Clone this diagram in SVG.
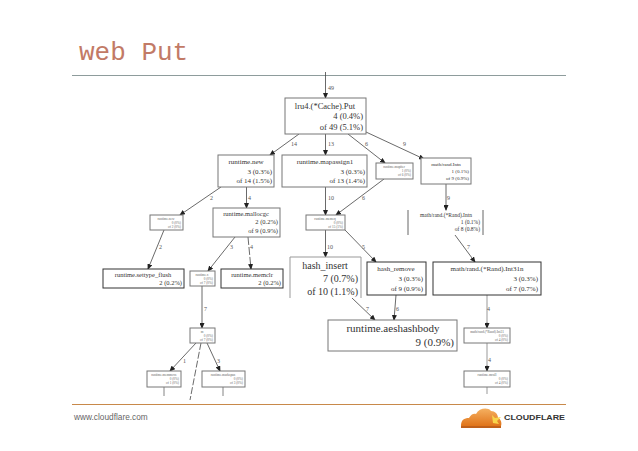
<svg xmlns="http://www.w3.org/2000/svg" width="638" height="451" viewBox="0 0 638 451">
<style>
.n{fill:#fff;stroke:#777;stroke-width:1}
.d{fill:#fff;stroke:#333;stroke-width:1}
.t{font-family:"Liberation Serif",serif;fill:#333}
.m{text-anchor:middle}.r{text-anchor:end}
.s{font-size:3.4px;fill:#666}
.e{fill:none;stroke:#444;stroke-width:.8;marker-end:url(#a)}
.el{font-family:"Liberation Serif",serif;font-size:6px;fill:#555}
</style>
<defs><marker id="a" markerWidth="6" markerHeight="5" refX="5" refY="2.5" orient="auto" markerUnits="userSpaceOnUse"><path d="M0 0L6 2.5L0 5z" fill="#222"/></marker>
<linearGradient id="c" x1="0" y1="0" x2="0" y2="1"><stop offset="0" stop-color="#f5b060"/><stop offset="1" stop-color="#e0741a"/></linearGradient></defs>
<rect width="638" height="451" fill="#fff"/>
<text x="79" y="60" font-family="'Liberation Mono',monospace" font-size="26" fill="#c27a66">web Put</text>
<path d="M72 75.500H566" stroke="#8e9c9c" stroke-width="1"/>
<g id="connectors">
<path class="e" d="M325.500 72V98"/><text class="el" x="328" y="90">49</text>
<path class="e" d="M299 134L270 155"/><text class="el" x="291" y="146">14</text>
<path class="e" d="M325.500 134V155"/><text class="el" x="328" y="146">13</text>
<path class="e" d="M348 134L385 163"/><text class="el" x="365" y="146">6</text>
<path class="e" d="M366 132L424 159"/><text class="el" x="403" y="146">9</text>
<path class="e" d="M221 187L180 215"/><text class="el" x="210" y="200">2</text>
<path class="e" d="M246.500 187V208"/><text class="el" x="248" y="200">4</text>
<path class="e" d="M325.500 187V215"/><text class="el" x="328" y="200">10</text>
<path class="e" d="M384 179L336 215"/><text class="el" x="362" y="200">6</text>
<path class="e" d="M446 184V210"/><text class="el" x="447" y="200">9</text>
<path class="e" d="M164 230L148 269"/><text class="el" x="159" y="249">2</text>
<path class="e" d="M235 237L208 271"/><text class="el" x="230" y="249">3</text>
<path class="e" d="M248 237L251 269" stroke-dasharray="8 2"/><text class="el" x="250" y="249">4</text>
<path class="e" d="M202 286V328"/><text class="el" x="204" y="311">7</text>
<path class="e" d="M325.500 230V257"/><text class="el" x="327" y="249">10</text>
<path class="e" d="M345 230L376 262"/><text class="el" x="362" y="249">5</text>
<path class="e" d="M455 235L475 262"/><text class="el" x="467" y="249">7</text>
<path class="e" d="M352 298L375 320"/><text class="el" x="366" y="311">7</text>
<path class="e" d="M396 295L394 320"/><text class="el" x="396" y="311">6</text>
<path d="M487 295V322" stroke="#ccc" stroke-width="2" fill="none"/><path class="e" d="M487 322V328"/><text class="el" x="487" y="311">4</text>
<path d="M487 343V365" stroke="#ccc" stroke-width="2" fill="none"/><path class="e" d="M487 365V371"/><text class="el" x="488" y="362">4</text>
<path class="e" d="M196 343L170 371"/><text class="el" x="183" y="363">1</text>
<path d="M201 343L190 400" fill="none" stroke="#444" stroke-width=".8" stroke-dasharray="7 2"/>
<path class="e" d="M207 343L220 371"/><text class="el" x="217" y="363">3</text>
<path d="M164 387V396M223 387V396" fill="none" stroke="#666" stroke-width=".8"/>
<path d="M487 387V394" fill="none" stroke="#ccc" stroke-width="2"/>
</g>
<g id="lru"><rect class="n" x="285" y="98" width="81" height="36"/><text class="t m" font-size="8.500" x="325" y="109">lru4.(*Cache).Put</text><text class="t r" font-size="8.500" x="363" y="119">4 (0.4%)</text><text class="t r" font-size="8.500" x="363" y="130">of 49 (5.1%)</text></g>
<g id="new"><rect class="n" x="218" y="155" width="56" height="32"/><text class="t m" font-size="7" x="246" y="164">runtime.new</text><text class="t r" font-size="7" x="272" y="174">3 (0.3%)</text><text class="t r" font-size="7" x="272" y="183">of 14 (1.5%)</text></g>
<g id="mapassign"><rect class="n" x="282" y="155" width="85" height="32"/><text class="t m" font-size="7" x="325" y="164">runtime.mapassign1</text><text class="t r" font-size="7" x="365" y="174">3 (0.3%)</text><text class="t r" font-size="7" x="365" y="183">of 13 (1.4%)</text></g>
<g id="s1"><rect class="n" x="376" y="163" width="37" height="16"/><text class="t m s" x="394" y="168">runtime.mapiter</text><text class="t r s" x="411" y="172">1 (0%)</text><text class="t r s" x="411" y="176">of 6 (0%)</text></g>
<g id="intn"><rect class="n" x="421" y="158" width="50" height="26"/><text class="t m" font-size="5" x="446" y="166">math/rand.Intn</text><text class="t r" font-size="5" x="469" y="173">1 (0.1%)</text><text class="t r" font-size="5" x="469" y="180">of 9 (0.9%)</text></g>
<g id="s2"><rect class="n" x="150" y="215" width="33" height="15"/><text class="t m s" x="166" y="220">runtime.new</text><text class="t r s" x="181" y="224">0 (0%)</text><text class="t r s" x="181" y="228">of 2 (0%)</text></g>
<g id="malloc"><rect class="n" x="213" y="208" width="67" height="29"/><text class="t m" font-size="6.500" x="246" y="216">runtime.mallocgc</text><text class="t r" font-size="6.500" x="278" y="224">2 (0.2%)</text><text class="t r" font-size="6.500" x="278" y="233">of 9 (0.9%)</text></g>
<g id="s3"><rect class="n" x="306" y="215" width="39" height="15"/><text class="t m s" x="325" y="220">runtime.memeq</text><text class="t r s" x="343" y="224">0 (0%)</text><text class="t r s" x="343" y="228">of 15 (1%)</text></g>
<g id="randint"><path d="M408 210V235M483 210V235" stroke="#666" fill="none"/><text class="t m" font-size="5.500" x="446" y="217">math/rand.(*Rand).Intn</text><text class="t r" font-size="5.500" x="480" y="224">1 (0.1%)</text><text class="t r" font-size="5.500" x="480" y="231">of 8 (0.8%)</text></g>
<g id="settype"><rect class="d" x="103" y="269" width="81" height="19"/><text class="t m" font-size="6.500" x="143" y="277">runtime.settype_flush</text><text class="t r" font-size="6.500" x="182" y="285">2 (0.2%)</text></g>
<g id="s4"><rect class="n" x="190" y="271" width="25" height="15"/><text class="t m s" x="202" y="276">runtime.x</text><text class="t r s" x="213" y="280">0 (0%)</text><text class="t r s" x="213" y="284">of 7 (0%)</text></g>
<g id="memclr"><rect class="d" x="221" y="269" width="62" height="19"/><text class="t m" font-size="6.500" x="252" y="277">runtime.memclr</text><text class="t r" font-size="6.500" x="281" y="285">2 (0.2%)</text></g>
<g id="hash_insert"><path d="M290 298V257H361V298" fill="#fff" stroke="#999"/><text class="t m" font-size="10" x="325" y="269">hash_insert</text><text class="t r" font-size="10" x="358" y="282">7 (0.7%)</text><text class="t r" font-size="10" x="358" y="295">of 10 (1.1%)</text></g>
<g id="hash_remove"><rect class="d" x="367" y="262" width="59" height="33"/><text class="t m" font-size="7" x="396" y="271">hash_remove</text><text class="t r" font-size="7" x="423" y="281">3 (0.3%)</text><text class="t r" font-size="7" x="423" y="291">of 9 (0.9%)</text></g>
<g id="int31n"><rect class="d" x="433" y="262" width="108" height="33"/><text class="t m" font-size="7" x="487" y="271">math/rand.(*Rand).Int31n</text><text class="t r" font-size="7" x="538" y="281">3 (0.3%)</text><text class="t r" font-size="7" x="538" y="291">of 7 (0.7%)</text></g>
<g id="aes"><rect class="n" x="328" y="320" width="129" height="31"/><text class="t m" font-size="11" x="393" y="332">runtime.aeshashbody</text><text class="t r" font-size="11" x="454" y="346">9 (0.9%)</text></g>
<g id="s5"><rect class="n" x="464" y="328" width="46" height="15"/><text class="t m s" x="487" y="333">math/rand.(*Rand).Int31</text><text class="t r s" x="508" y="337">0 (0%)</text><text class="t r s" x="508" y="341">of 4 (0%)</text></g>
<g id="s6"><rect class="n" x="190" y="328" width="25" height="15"/><text class="t m s" x="202" y="333">m</text><text class="t r s" x="213" y="337">0 (0%)</text><text class="t r s" x="213" y="341">of 7 (0%)</text></g>
<g id="s7"><rect class="n" x="147" y="371" width="34" height="16"/><text class="t m s" x="164" y="376">runtime.memmove</text><text class="t r s" x="179" y="380">0 (0%)</text><text class="t r s" x="179" y="384">of 1 (0%)</text></g>
<g id="s8"><rect class="n" x="202" y="371" width="43" height="16"/><text class="t m s" x="223" y="376">runtime.markspan</text><text class="t r s" x="243" y="380">0 (0%)</text><text class="t r s" x="243" y="384">of 3 (0%)</text></g>
<g id="s9"><rect class="n" x="464" y="371" width="46" height="16"/><text class="t m s" x="487" y="376">runtime.mcall</text><text class="t r s" x="508" y="380">0 (0%)</text><text class="t r s" x="508" y="384">of 4 (0%)</text></g>
<path d="M72 404.500H566" stroke="#c8894a" stroke-width="1"/>
<text x="74" y="420" font-family="'Liberation Sans',sans-serif" font-size="8.300" fill="#666">www.cloudflare.com</text>
<g id="logo"><path d="M461 426C461 420 464 418 469 418C471 414 474 413 476 414C479 408 488 407 491 411C495 411 498 414 498 418C501 419 502 423 501 426Z" fill="url(#c)"/><path d="M492 415L495 418L501 417L497 421L499 424L493 423Z" fill="#f8d54a"/><path d="M461 426H501V428H461Z" fill="#c0601a"/><text x="504" y="420" font-family="'Liberation Sans',sans-serif" font-size="7" font-weight="700" fill="#333" textLength="61" lengthAdjust="spacingAndGlyphs">CLOUDFLARE</text></g>
</svg>
